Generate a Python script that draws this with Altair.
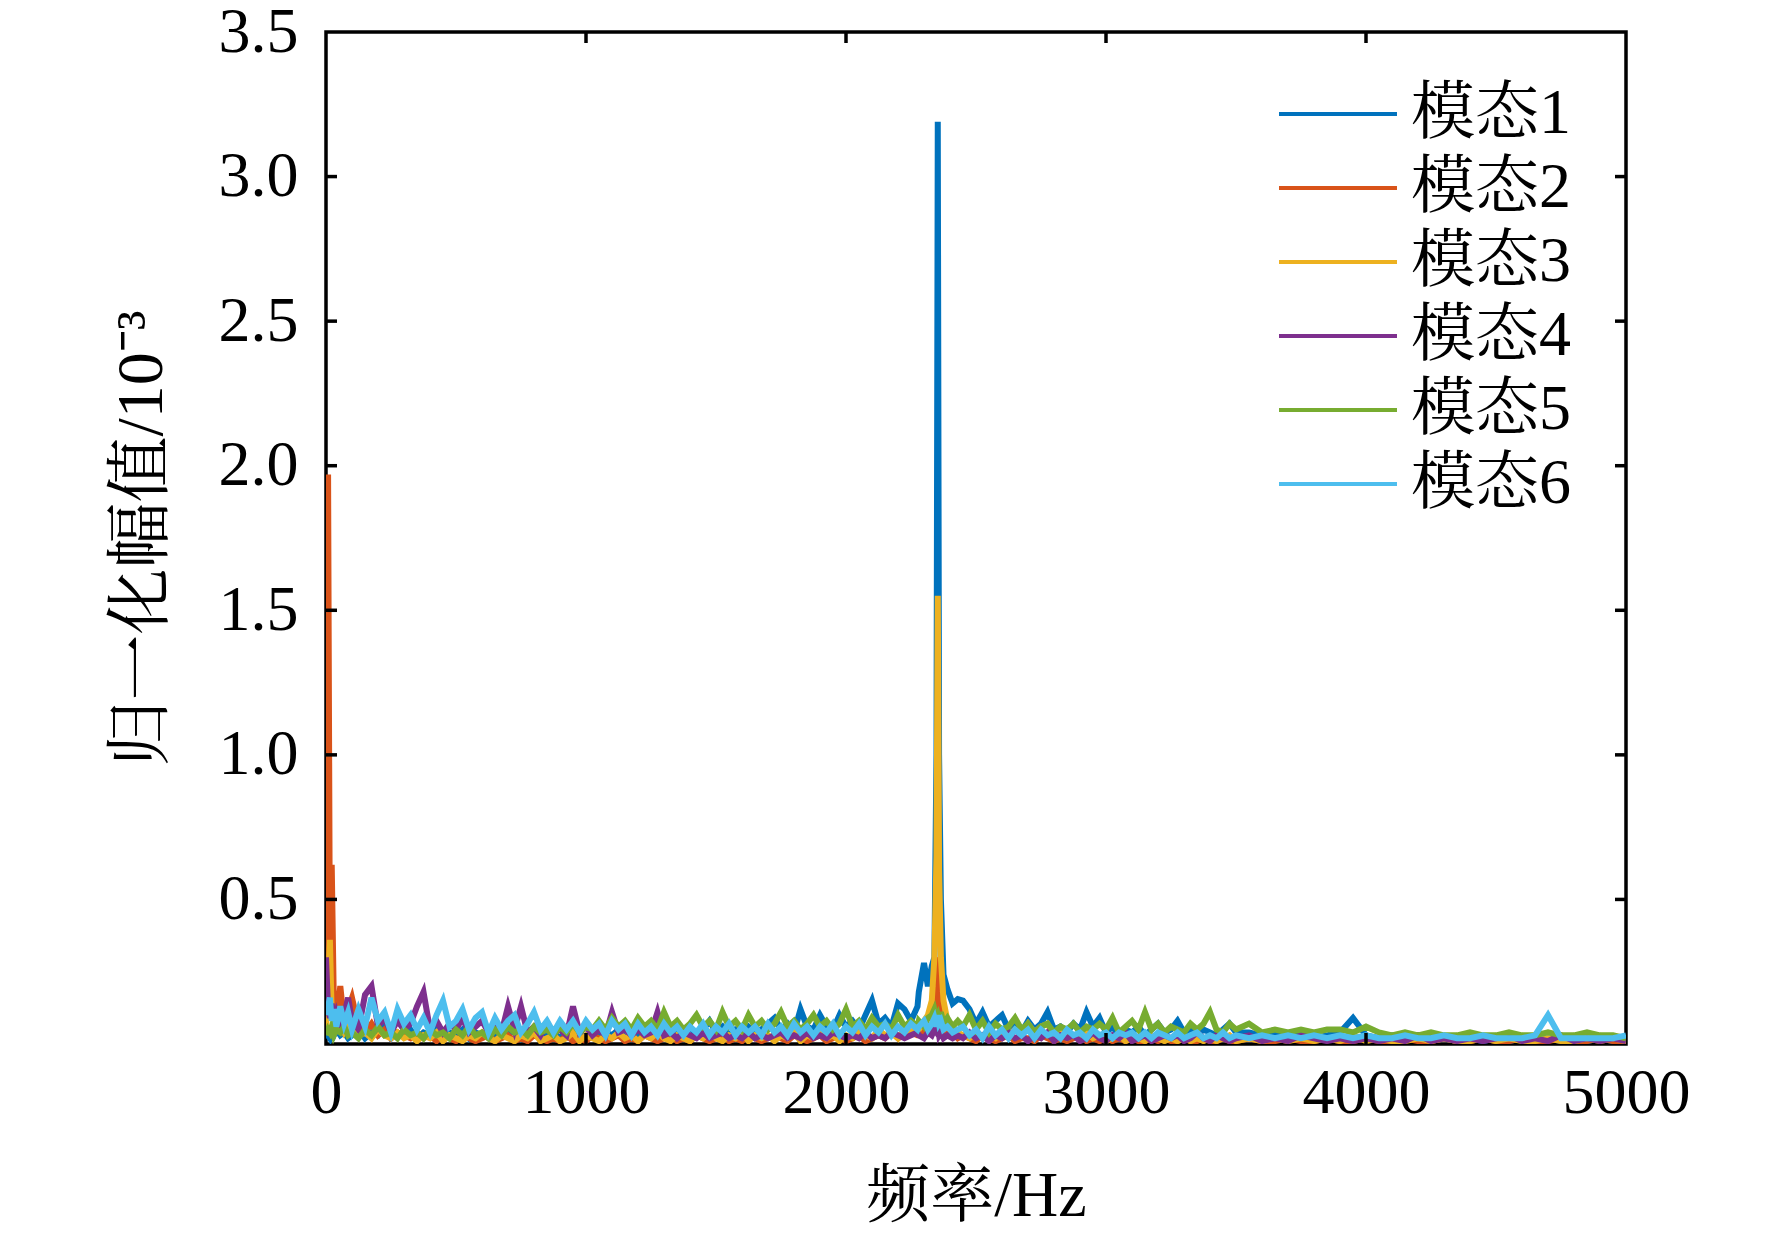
import altair as alt
import pandas as pd

# ---------------- data ----------------
SERIES = ["模态1", "模态2", "模态3", "模态4", "模态5", "模态6"]
COLORS = ["#0072BD", "#D95319", "#EDB120", "#7E2F8E", "#77AC30", "#4DBEEE"]

# frequency sample points (Hz)
FREQ_LOW = [0, 8, 15, 22, 30, 40, 55, 70, 85]
FREQ_MID = list(range(100, 2300, 25))      # 100 .. 2275  (88)
FREQ_PEAK = [2280, 2300, 2315, 2330, 2340, 2348, 2353, 2358, 2365, 2375, 2390, 2410, 2430]
FREQ_HIGH1 = list(range(2450, 3525, 25))   # 2450 .. 3500 (43)
FREQ_HIGH2 = list(range(3550, 5050, 50))   # 3550 .. 5000 (30)

# 模态1 (blue)
M1_LOW = [0.02, 0.03, 0.02, 0.04, 0.03, 0.05, 0.03, 0.04, 0.02]
M1_MID = [
    0.03, 0.05, 0.02, 0.04, 0.03, 0.06, 0.02, 0.04, 0.03, 0.05, 0.02,
    0.04, 0.03, 0.05, 0.02, 0.04, 0.03, 0.05, 0.02, 0.04, 0.03, 0.05,
    0.02, 0.04, 0.03, 0.05, 0.02, 0.04, 0.03, 0.05, 0.03, 0.04, 0.02,
    0.05, 0.03, 0.04, 0.02, 0.05, 0.03, 0.04, 0.03, 0.05, 0.02, 0.04,
    0.03, 0.05, 0.03, 0.04, 0.06, 0.03, 0.05, 0.04, 0.06, 0.03, 0.05,
    0.08, 0.04, 0.06, 0.03, 0.05, 0.04, 0.06, 0.04, 0.05, 0.07, 0.09,
    0.05, 0.07, 0.04, 0.12, 0.06, 0.05, 0.10, 0.06, 0.05, 0.10, 0.06,
    0.08, 0.05, 0.10, 0.15, 0.07, 0.09, 0.06, 0.14, 0.12, 0.08, 0.13,
]
M1_PEAK = [0.18, 0.28, 0.20, 0.27, 0.30, 1.00, 3.19, 1.00, 0.50, 0.24, 0.19, 0.14, 0.155]
M1_HIGH1 = [
    0.15, 0.12, 0.07, 0.11, 0.06, 0.08, 0.10, 0.05, 0.07, 0.04, 0.08,
    0.05, 0.07, 0.11, 0.05, 0.06, 0.04, 0.07, 0.05, 0.11, 0.06, 0.09,
    0.04, 0.06, 0.03, 0.05, 0.04, 0.06, 0.03, 0.05, 0.07, 0.04, 0.05,
    0.08, 0.04, 0.05, 0.03, 0.05, 0.04, 0.03, 0.05, 0.07, 0.04,
]
M1_HIGH2 = [
    0.04, 0.03, 0.04, 0.03, 0.04, 0.02, 0.03, 0.04, 0.09, 0.03,
    0.02, 0.03, 0.02, 0.03, 0.02, 0.02, 0.01, 0.02, 0.01, 0.02,
    0.01, 0.02, 0.01, 0.02, 0.01, 0.02, 0.01, 0.02, 0.01, 0.02,
]

# 模态2 (orange)
M2_LOW = [0.10, 1.97, 0.30, 0.62, 0.15, 0.08, 0.20, 0.07, 0.12]
M2_MID = [
    0.16, 0.06, 0.04, 0.07, 0.03, 0.05, 0.02, 0.04, 0.03, 0.02, 0.04,
    0.02, 0.03, 0.01, 0.03, 0.02, 0.01, 0.03, 0.02, 0.01, 0.02, 0.03,
    0.01, 0.02, 0.03, 0.01, 0.02, 0.01, 0.03, 0.02, 0.01, 0.02, 0.01,
    0.03, 0.01, 0.02, 0.01, 0.03, 0.02, 0.01, 0.02, 0.03, 0.01, 0.02,
    0.01, 0.03, 0.02, 0.01, 0.02, 0.03, 0.01, 0.02, 0.01, 0.03, 0.02,
    0.01, 0.02, 0.03, 0.01, 0.02, 0.01, 0.03, 0.02, 0.01, 0.02, 0.03,
    0.02, 0.01, 0.03, 0.02, 0.01, 0.02, 0.03, 0.01, 0.02, 0.03, 0.01,
    0.02, 0.03, 0.01, 0.02, 0.03, 0.02, 0.04, 0.02, 0.03, 0.04, 0.03,
]
M2_PEAK = [0.03, 0.05, 0.04, 0.06, 0.10, 0.20, 0.30, 0.18, 0.08, 0.05, 0.03, 0.04, 0.02]
M2_HIGH1 = [
    0.03, 0.02, 0.01, 0.03, 0.02, 0.01, 0.02, 0.03, 0.01, 0.02, 0.02,
    0.01, 0.03, 0.02, 0.01, 0.02, 0.01, 0.02, 0.03, 0.01, 0.02, 0.01,
    0.02, 0.01, 0.02, 0.01, 0.02, 0.01, 0.01, 0.02, 0.01, 0.02, 0.01,
    0.01, 0.02, 0.01, 0.01, 0.02, 0.01, 0.01, 0.02, 0.01, 0.01,
]
M2_HIGH2 = [
    0.02, 0.01, 0.01, 0.02, 0.01, 0.01, 0.02, 0.01, 0.01, 0.02,
    0.01, 0.01, 0.02, 0.01, 0.01, 0.02, 0.01, 0.01, 0.02, 0.01,
    0.01, 0.02, 0.01, 0.01, 0.02, 0.01, 0.01, 0.02, 0.01, 0.01,
]

# 模态3 (yellow)
M3_LOW = [0.05, 0.20, 0.36, 0.10, 0.08, 0.05, 0.07, 0.04, 0.06]
M3_MID = [
    0.05, 0.03, 0.04, 0.02, 0.05, 0.03, 0.02, 0.04, 0.02, 0.03, 0.01,
    0.03, 0.02, 0.04, 0.01, 0.03, 0.02, 0.01, 0.03, 0.02, 0.04, 0.02,
    0.01, 0.03, 0.02, 0.01, 0.03, 0.02, 0.04, 0.01, 0.02, 0.03, 0.01,
    0.02, 0.04, 0.01, 0.03, 0.02, 0.01, 0.03, 0.02, 0.04, 0.02, 0.03,
    0.01, 0.03, 0.02, 0.04, 0.02, 0.01, 0.03, 0.02, 0.01, 0.03, 0.02,
    0.04, 0.02, 0.01, 0.03, 0.02, 0.04, 0.01, 0.03, 0.02, 0.03, 0.01,
    0.03, 0.02, 0.04, 0.01, 0.03, 0.02, 0.04, 0.02, 0.03, 0.01, 0.03,
    0.02, 0.04, 0.03, 0.02, 0.05, 0.03, 0.04, 0.02, 0.05, 0.04, 0.06,
]
M3_PEAK = [0.05, 0.08, 0.10, 0.15, 0.30, 0.65, 1.55, 0.60, 0.30, 0.15, 0.08, 0.05, 0.04]
M3_HIGH1 = [
    0.03, 0.02, 0.04, 0.02, 0.03, 0.02, 0.04, 0.03, 0.05, 0.04, 0.07,
    0.04, 0.06, 0.07, 0.03, 0.04, 0.02, 0.03, 0.02, 0.04, 0.02, 0.03,
    0.01, 0.02, 0.03, 0.01, 0.02, 0.02, 0.01, 0.03, 0.02, 0.01, 0.02,
    0.01, 0.02, 0.01, 0.02, 0.01, 0.02, 0.01, 0.02, 0.03, 0.01,
]
M3_HIGH2 = [
    0.02, 0.01, 0.02, 0.01, 0.02, 0.01, 0.02, 0.01, 0.03, 0.01,
    0.02, 0.01, 0.01, 0.02, 0.01, 0.02, 0.01, 0.01, 0.02, 0.01,
    0.02, 0.01, 0.01, 0.02, 0.01, 0.01, 0.02, 0.01, 0.02, 0.01,
]

# 模态4 (purple)
M4_LOW = [0.30, 0.12, 0.09, 0.14, 0.08, 0.11, 0.07, 0.10, 0.16]
M4_MID = [
    0.08, 0.05, 0.17, 0.20, 0.06, 0.09, 0.04, 0.08, 0.05, 0.07, 0.13,
    0.18, 0.05, 0.08, 0.04, 0.07, 0.05, 0.09, 0.04, 0.06, 0.08, 0.04,
    0.06, 0.04, 0.13, 0.05, 0.13, 0.04, 0.06, 0.03, 0.07, 0.04, 0.05,
    0.03, 0.13, 0.04, 0.06, 0.03, 0.05, 0.03, 0.11, 0.04, 0.05, 0.03,
    0.05, 0.03, 0.04, 0.11, 0.03, 0.04, 0.02, 0.04, 0.03, 0.02, 0.04,
    0.02, 0.03, 0.04, 0.02, 0.03, 0.02, 0.04, 0.02, 0.03, 0.02, 0.03,
    0.04, 0.02, 0.03, 0.02, 0.04, 0.02, 0.03, 0.02, 0.04, 0.03, 0.02,
    0.03, 0.02, 0.04, 0.02, 0.03, 0.02, 0.04, 0.03, 0.02, 0.03, 0.04,
]
M4_PEAK = [0.03, 0.02, 0.04, 0.03, 0.05, 0.04, 0.06, 0.03, 0.04, 0.02, 0.03, 0.02, 0.03]
M4_HIGH1 = [
    0.02, 0.04, 0.02, 0.03, 0.01, 0.03, 0.02, 0.04, 0.02, 0.03, 0.01,
    0.03, 0.02, 0.04, 0.01, 0.03, 0.02, 0.03, 0.01, 0.02, 0.04, 0.02,
    0.01, 0.03, 0.02, 0.04, 0.01, 0.02, 0.03, 0.01, 0.02, 0.03, 0.02,
    0.03, 0.01, 0.02, 0.04, 0.02, 0.01, 0.03, 0.02, 0.01, 0.02,
]
M4_HIGH2 = [
    0.03, 0.01, 0.02, 0.01, 0.03, 0.02, 0.01, 0.02, 0.01, 0.02,
    0.01, 0.02, 0.01, 0.03, 0.01, 0.02, 0.01, 0.02, 0.01, 0.02,
    0.03, 0.01, 0.02, 0.01, 0.03, 0.01, 0.02, 0.01, 0.02, 0.01,
]

# 模态5 (green)
M5_LOW = [0.03, 0.05, 0.04, 0.06, 0.03, 0.05, 0.04, 0.06, 0.03]
M5_MID = [
    0.04, 0.02, 0.05, 0.03, 0.06, 0.03, 0.04, 0.02, 0.05, 0.03, 0.04,
    0.02, 0.05, 0.03, 0.04, 0.02, 0.05, 0.03, 0.06, 0.03, 0.04, 0.02,
    0.05, 0.03, 0.06, 0.04, 0.05, 0.03, 0.06, 0.04, 0.05, 0.03, 0.06,
    0.04, 0.07, 0.04, 0.06, 0.05, 0.08, 0.05, 0.09, 0.06, 0.08, 0.05,
    0.09, 0.06, 0.08, 0.05, 0.11, 0.06, 0.08, 0.05, 0.07, 0.10, 0.06,
    0.08, 0.05, 0.11, 0.06, 0.08, 0.05, 0.10, 0.06, 0.08, 0.05, 0.07,
    0.11, 0.06, 0.08, 0.05, 0.07, 0.10, 0.06, 0.08, 0.05, 0.07, 0.12,
    0.06, 0.08, 0.05, 0.09, 0.06, 0.07, 0.05, 0.10, 0.06, 0.08, 0.06,
]
M5_PEAK = [0.08, 0.06, 0.09, 0.10, 0.12, 0.09, 0.10, 0.08, 0.11, 0.07, 0.09, 0.06, 0.08]
M5_HIGH1 = [
    0.06, 0.10, 0.05, 0.08, 0.04, 0.07, 0.05, 0.06, 0.09, 0.05, 0.07,
    0.04, 0.06, 0.07, 0.04, 0.06, 0.05, 0.07, 0.04, 0.06, 0.05, 0.07,
    0.05, 0.09, 0.04, 0.06, 0.08, 0.05, 0.11, 0.05, 0.07, 0.04, 0.06,
    0.05, 0.04, 0.07, 0.05, 0.07, 0.11, 0.05, 0.04, 0.07, 0.05,
]
M5_HIGH2 = [
    0.07, 0.04, 0.05, 0.04, 0.05, 0.04, 0.05, 0.05, 0.04, 0.06,
    0.04, 0.03, 0.04, 0.03, 0.04, 0.03, 0.03, 0.04, 0.03, 0.03,
    0.04, 0.03, 0.03, 0.04, 0.03, 0.03, 0.04, 0.03, 0.03, 0.02,
]

# 模态6 (light blue)
M6_LOW = [0.10, 0.13, 0.16, 0.08, 0.12, 0.06, 0.13, 0.07, 0.11]
M6_MID = [
    0.05, 0.12, 0.06, 0.16, 0.08, 0.11, 0.04, 0.12, 0.07, 0.10, 0.05,
    0.09, 0.04, 0.10, 0.15, 0.06, 0.08, 0.12, 0.05, 0.09, 0.11, 0.04,
    0.09, 0.05, 0.08, 0.10, 0.04, 0.07, 0.11, 0.05, 0.08, 0.04, 0.08,
    0.05, 0.08, 0.04, 0.08, 0.05, 0.07, 0.03, 0.08, 0.05, 0.07, 0.03,
    0.07, 0.04, 0.06, 0.03, 0.07, 0.04, 0.06, 0.03, 0.06, 0.04, 0.07,
    0.03, 0.06, 0.04, 0.07, 0.03, 0.06, 0.04, 0.06, 0.03, 0.07, 0.04,
    0.06, 0.03, 0.07, 0.04, 0.06, 0.03, 0.06, 0.04, 0.07, 0.03, 0.06,
    0.04, 0.07, 0.03, 0.06, 0.04, 0.07, 0.03, 0.06, 0.04, 0.07, 0.05,
]
M6_PEAK = [0.06, 0.08, 0.05, 0.07, 0.09, 0.06, 0.10, 0.07, 0.08, 0.05, 0.06, 0.04, 0.05]
M6_HIGH1 = [
    0.06, 0.03, 0.05, 0.02, 0.06, 0.03, 0.05, 0.02, 0.05, 0.03, 0.05,
    0.02, 0.05, 0.03, 0.04, 0.02, 0.05, 0.03, 0.04, 0.02, 0.05, 0.03,
    0.04, 0.02, 0.04, 0.03, 0.04, 0.02, 0.04, 0.02, 0.04, 0.03, 0.02,
    0.04, 0.02, 0.03, 0.04, 0.02, 0.03, 0.02, 0.04, 0.02, 0.03,
]
M6_HIGH2 = [
    0.02, 0.03, 0.02, 0.03, 0.02, 0.03, 0.02, 0.03, 0.02, 0.03,
    0.02, 0.02, 0.03, 0.02, 0.02, 0.03, 0.02, 0.02, 0.03, 0.02,
    0.02, 0.02, 0.03, 0.10, 0.02, 0.02, 0.02, 0.02, 0.02, 0.03,
]

X_TICKS = [0, 1000, 2000, 3000, 4000, 5000]
Y_TICKS = [0.5, 1.0, 1.5, 2.0, 2.5, 3.0, 3.5]
X_INNER = [1000, 2000, 3000, 4000]
Y_INNER = [0.5, 1.0, 1.5, 2.0, 2.5, 3.0]

# ---------------- build table ----------------
FREQ = FREQ_LOW + FREQ_MID + FREQ_PEAK + FREQ_HIGH1 + FREQ_HIGH2
ALL = [
    M1_LOW + M1_MID + M1_PEAK + M1_HIGH1 + M1_HIGH2,
    M2_LOW + M2_MID + M2_PEAK + M2_HIGH1 + M2_HIGH2,
    M3_LOW + M3_MID + M3_PEAK + M3_HIGH1 + M3_HIGH2,
    M4_LOW + M4_MID + M4_PEAK + M4_HIGH1 + M4_HIGH2,
    M5_LOW + M5_MID + M5_PEAK + M5_HIGH1 + M5_HIGH2,
    M6_LOW + M6_MID + M6_PEAK + M6_HIGH1 + M6_HIGH2,
]
rows = []
for k, (name, vals) in enumerate(zip(SERIES, ALL)):
    assert len(vals) == len(FREQ), (name, len(vals), len(FREQ))
    for f, v in zip(FREQ, vals):
        rows.append({"f": f, "v": v, "s": name, "o": k})
df = pd.DataFrame(rows)

FONT = "Liberation Serif, Noto Serif CJK SC, Noto Sans CJK SC"
W, H = 1300, 1012
TL = 11  # inner tick length

xs = alt.Scale(domain=[0, 5000], nice=False, zero=False)
ys = alt.Scale(domain=[0, 3.5], nice=False, zero=False)

lines = alt.Chart(df).mark_line(strokeWidth=6, clip=True).encode(
    x=alt.X("f:Q", scale=xs, axis=alt.Axis(
        values=X_TICKS, format="d", title="频率/Hz", ticks=False, domain=False,
        grid=False, labelFontSize=64, labelFont=FONT, labelColor="black",
        labelFlush=False, labelPadding=17, titleFontSize=64, titleFont=FONT,
        titleFontWeight="normal", titleColor="black", titleY=152,
        titleBaseline="middle")),
    y=alt.Y("v:Q", scale=ys, axis=alt.Axis(
        values=Y_TICKS, format=".1f", title="归一化幅值/10⁻³", ticks=False,
        domain=False, grid=False, labelFontSize=64, labelFont=FONT,
        labelColor="black", labelFlush=False, labelPadding=28,
        titleFontSize=66, titleFont=FONT, titleFontWeight="normal",
        titleColor="black", titleX=-185, titleY=H / 2,
        titleBaseline="middle", titleAlign="center")),
    color=alt.Color("s:N", scale=alt.Scale(domain=SERIES, range=COLORS),
                    legend=alt.Legend(
                        title=None, orient="none", legendX=980, legendY=50,
                        symbolType="M-4,0L4,0", symbolSize=870,
                        symbolStrokeWidth=4, labelFontSize=64, labelFont=FONT,
                        labelColor="black", labelOffset=41, rowPadding=10,
                        padding=0)),
    order=alt.Order("o:Q"),
)

tick_y = pd.DataFrame({"v": Y_INNER})
tick_x = pd.DataFrame({"f": X_INNER})
left_ticks = alt.Chart(tick_y).mark_rule(color="black", strokeWidth=3.5).encode(
    y=alt.Y("v:Q", scale=ys), x=alt.value(0), x2=alt.value(TL))
right_ticks = alt.Chart(tick_y).mark_rule(color="black", strokeWidth=3.5).encode(
    y=alt.Y("v:Q", scale=ys), x=alt.value(W - TL), x2=alt.value(W))
top_ticks = alt.Chart(tick_x).mark_rule(color="black", strokeWidth=3.5).encode(
    x=alt.X("f:Q", scale=xs), y=alt.value(0), y2=alt.value(TL))
bottom_ticks = alt.Chart(tick_x).mark_rule(color="black", strokeWidth=3.5).encode(
    x=alt.X("f:Q", scale=xs), y=alt.value(H - TL), y2=alt.value(H))

chart = alt.layer(lines, left_ticks, right_ticks, top_ticks, bottom_ticks).properties(
    width=W, height=H,
    autosize=alt.AutoSizeParams(type="none"),
    padding={"left": 318, "top": 24, "right": 120, "bottom": 194},
    background="white",
).configure_view(stroke="black", strokeWidth=3.5)

chart.save("out.html", embed_options={"renderer": "svg", "actions": False})
